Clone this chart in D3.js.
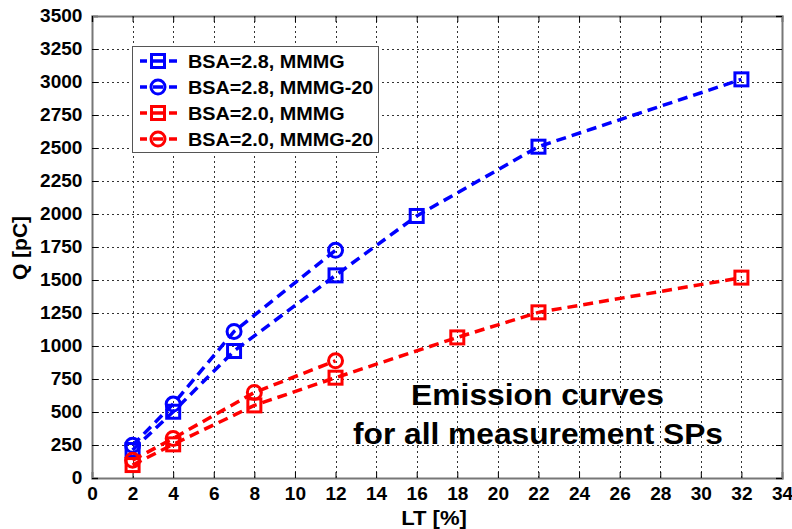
<!DOCTYPE html>
<html>
<head>
<meta charset="utf-8">
<script src="https://cdn.jsdelivr.net/npm/d3@7"></script>
<style>
  body { margin: 0; background: #fff; }
  svg { display: block; font-family: "Liberation Sans", Arial, sans-serif; font-weight: bold; }
</style>
</head>
<body>
<svg id="chart" width="792" height="529"></svg>
<script>
// Emitted charge vs. LT for two BSA settings and two detector variants
const ltSquareBlue = [2, 4, 7, 12, 16, 22, 32];
const qSquareBlue  = [212, 502, 962, 1535, 1985, 2510, 3020];
const ltCircleBlue = [2, 4, 7, 12];
const qCircleBlue  = [248, 560, 1110, 1725];
const ltSquareRed  = [2, 4, 8, 12, 18, 22, 32];
const qSquareRed   = [98, 255, 550, 760, 1065, 1255, 1518];
const ltCircleRed  = [2, 4, 8, 12];
const qCircleRed   = [135, 300, 648, 888];

const seriesNames  = ["BSA=2.8, MMMG", "BSA=2.8, MMMG-20", "BSA=2.0, MMMG", "BSA=2.0, MMMG-20"];
const xTicks = d3.range(0, 35, 2);
const yTicks = d3.range(0, 3501, 250);

const series = [
  { name: seriesNames[0], x: ltSquareBlue, y: qSquareBlue, color: "#0000ff", marker: "square" },
  { name: seriesNames[1], x: ltCircleBlue, y: qCircleBlue, color: "#0000ff", marker: "circle" },
  { name: seriesNames[2], x: ltSquareRed,  y: qSquareRed,  color: "#ff0000", marker: "square" },
  { name: seriesNames[3], x: ltCircleRed,  y: qCircleRed,  color: "#ff0000", marker: "circle" }
];

const svg = d3.select("#chart");
const m = { left: 92, top: 16, right: 782, bottom: 478 };

const x = d3.scaleLinear().domain([0, 34]).range([m.left, m.right]);
const y = d3.scaleLinear().domain([0, 3500]).range([m.bottom, m.top]);

// grid
const grid = svg.append("g").attr("stroke", "#333").attr("stroke-width", 1)
  .attr("stroke-dasharray", "2,3");
grid.selectAll(".gx").data(xTicks.filter(d => d > 0 && d < 34)).join("line")
  .attr("x1", d => Math.round(x(d)) + 0.5).attr("x2", d => Math.round(x(d)) + 0.5)
  .attr("y1", m.top).attr("y2", m.bottom);
grid.selectAll(".gy").data(yTicks.filter(d => d > 0 && d < 3500)).join("line")
  .attr("y1", d => Math.round(y(d)) + 0.5).attr("y2", d => Math.round(y(d)) + 0.5)
  .attr("x1", m.left).attr("x2", m.right);

// axes
const fmt = d3.format("d");
const xAxis = d3.axisBottom(x).tickValues(xTicks).tickFormat(fmt).tickSize(-6).tickPadding(9);
const yAxis = d3.axisLeft(y).tickValues(yTicks).tickFormat(fmt).tickSize(-6).tickPadding(9);
const gx = svg.append("g").attr("transform", `translate(0,${m.bottom})`).call(xAxis);
const gy = svg.append("g").attr("transform", `translate(${m.left},0)`).call(yAxis);
const gx2 = svg.append("g").attr("transform", `translate(0,${m.top})`)
  .call(d3.axisTop(x).tickValues(xTicks).tickSize(-6).tickFormat(""));
const gy2 = svg.append("g").attr("transform", `translate(${m.right},0)`)
  .call(d3.axisRight(y).tickValues(yTicks).tickSize(-6).tickFormat(""));
[gx, gy, gx2, gy2].forEach(g => {
  g.select(".domain").attr("stroke", "#777").attr("stroke-width", 2);
  g.selectAll(".tick line").attr("stroke", "#000");
  g.selectAll(".tick text").attr("fill", "#000").style("font-size", "18px")
    .style("font-family", "'Liberation Sans', Arial, sans-serif").style("font-weight", "bold");
});
gy.selectAll(".tick text").attr("transform", "scale(1.06,1)");
gx.selectAll(".tick text").attr("transform", "scale(1.06,1)");

// axis titles
svg.append("text").attr("transform", "translate(434,525) scale(1.05,1)").attr("text-anchor", "middle")
  .style("font-size", "21px").text("LT [%]");
svg.append("text").attr("transform", "translate(27,248) rotate(-90)").attr("text-anchor", "middle")
  .style("font-size", "21px").text("Q [pC]");

// series
const line = d3.line();
const markerSize = 13;
function drawMarker(g, type, color, cx, cy) {
  if (type === "square") {
    g.append("rect").attr("x", cx - markerSize / 2).attr("y", cy - markerSize / 2)
      .attr("width", markerSize).attr("height", markerSize)
      .attr("fill", "none").attr("stroke", color).attr("stroke-width", 3);
  } else {
    g.append("circle").attr("cx", cx).attr("cy", cy).attr("r", markerSize / 2 + 0.5)
      .attr("fill", "none").attr("stroke", color).attr("stroke-width", 3);
  }
}
series.forEach(s => {
  const pts = s.x.map((d, i) => [x(d), y(s.y[i])]);
  svg.append("path").attr("d", line(pts)).attr("fill", "none")
    .attr("stroke", s.color).attr("stroke-width", 3.5).attr("stroke-dasharray", "10,6");
  const g = svg.append("g");
  pts.forEach(p => drawMarker(g, s.marker, s.color, p[0], p[1]));
});

// legend
const lg = svg.append("g");
lg.append("rect").attr("x", 132.5).attr("y", 46.5).attr("width", 246).attr("height", 106)
  .attr("fill", "#fff").attr("stroke", "#555").attr("stroke-width", 1);
series.forEach((s, i) => {
  const yy = 61 + i * 26;
  lg.append("line").attr("x1", 140).attr("x2", 177).attr("y1", yy).attr("y2", yy)
    .attr("stroke", s.color).attr("stroke-width", 3.5).attr("stroke-dasharray", "10,6")
    .attr("stroke-dashoffset", 3);
  drawMarker(lg, s.marker, s.color, 158, yy);
  lg.append("text").attr("transform", `translate(188,${yy + 6.5}) scale(1.1,1)`)
    .style("font-size", "18px").text(s.name);
});

// annotation
const ann = svg.append("g").style("font-size", "30px");
ann.append("text").attr("x", 411).attr("y", 405).attr("textLength", 253)
  .attr("lengthAdjust", "spacingAndGlyphs").text("Emission curves");
ann.append("text").attr("x", 353).attr("y", 444).attr("textLength", 370)
  .attr("lengthAdjust", "spacingAndGlyphs").text("for all measurement SPs");
</script>
</body>
</html>
